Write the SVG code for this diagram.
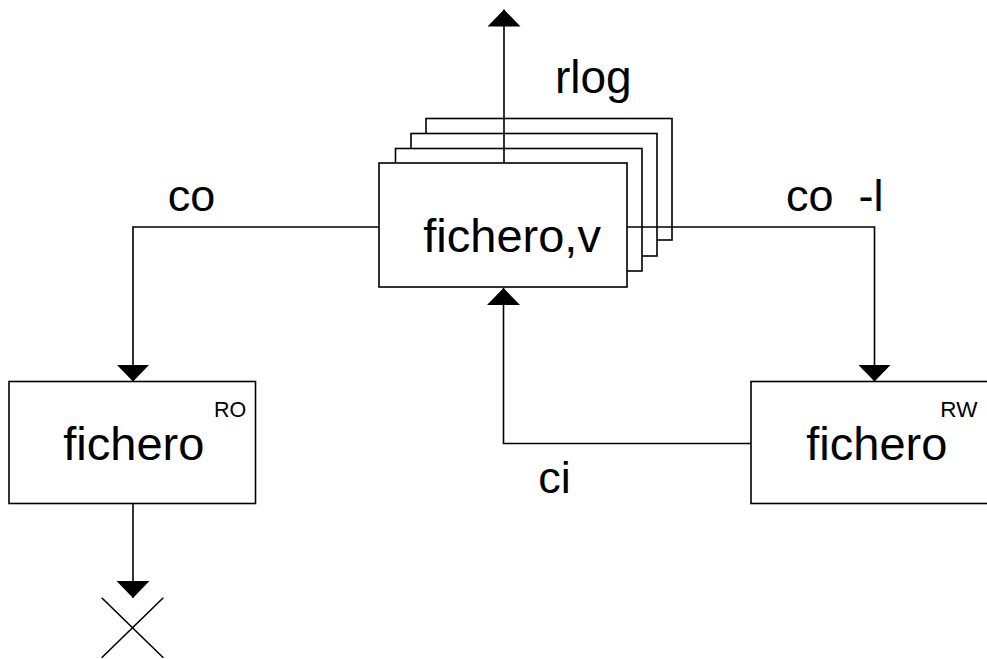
<svg xmlns="http://www.w3.org/2000/svg" width="987" height="659" viewBox="0 0 987 659">
<style>
.box{fill:#fff;stroke:#000;stroke-width:1.6}
.ln{fill:none;stroke:#000;stroke-width:1.6}
.t{font-family:"Liberation Sans",Arial,sans-serif;fill:#000}
</style>
<defs>
<marker id="ah" viewBox="0 0 17 33" refX="17" refY="16.5" markerWidth="17" markerHeight="33" markerUnits="userSpaceOnUse" orient="auto">
<path d="M0,0 L17,16.5 L0,33 z" fill="#000"/>
</marker>
</defs>
<rect width="987" height="659" fill="#fff"/>
<g id="rcs-file">
<rect class="box" x="426" y="118.5" width="246" height="121.5"/>
<rect class="box" x="411" y="133.5" width="246" height="122.5"/>
<rect class="box" x="395.5" y="148.5" width="246.5" height="122.5"/>
<rect class="box" x="379" y="163" width="248" height="124"/>
<text class="t" x="423.3" y="251.7" font-size="47">fichero,v</text>
</g>
<g id="file-ro">
<rect class="box" x="9" y="381.5" width="246.5" height="122"/>
<text class="t" x="63.3" y="460" font-size="47">fichero</text>
<text class="t" x="214" y="416.7" font-size="21.5">RO</text>
</g>
<g id="file-rw">
<rect class="box" x="751" y="381.5" width="250" height="122"/>
<text class="t" x="806.3" y="460" font-size="47">fichero</text>
<text class="t" x="940.3" y="416.7" font-size="22.5">RW</text>
</g>
<g id="end-x">
<path class="ln" d="M101.7,597.7 L163.3,657.7 M163.3,597.7 L101.7,657.7"/>
</g>
<g id="connectors">
<path class="ln" d="M504,163 V9.5" marker-end="url(#ah)"/>
<path class="ln" d="M379,227 H133 V381.5" marker-end="url(#ah)"/>
<path class="ln" d="M627,227 H874.5 V381.5" marker-end="url(#ah)"/>
<path class="ln" d="M751,443.5 H503.5 V288" marker-end="url(#ah)"/>
<path class="ln" d="M133,503.5 V598" marker-end="url(#ah)"/>
<text class="t" x="555" y="93.3" font-size="46">rlog</text>
<text class="t" x="167.7" y="210.7" font-size="45">co</text>
<text class="t" x="786" y="210.7" font-size="45" xml:space="preserve">co  -l</text>
<text class="t" x="538.3" y="493.3" font-size="45">ci</text>
</g>
</svg>
